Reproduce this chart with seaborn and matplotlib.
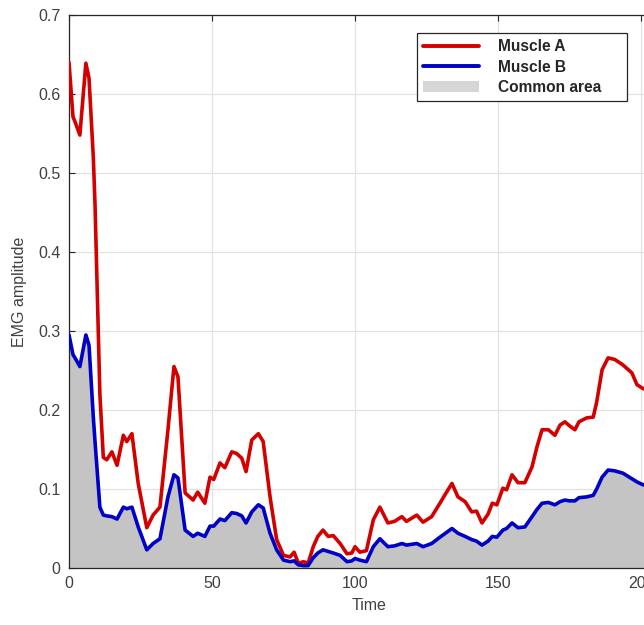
import numpy as np
import pandas as pd
import matplotlib
matplotlib.use("Agg")
import matplotlib.pyplot as plt
import seaborn as sns
from matplotlib.patches import Patch
from matplotlib.lines import Line2D

# time samples
time = [0, 1.4, 2.1, 3.8, 5.9, 7, 8.5, 9.1, 10.8, 12, 13.2, 15, 16.8, 19, 20.2, 22,
        24.2, 27.2, 29.4, 31.8, 34.6, 36.7, 38.1, 40.6, 43.4, 45, 47.5, 49.3, 50.6,
        52.8, 54.5, 56.9, 58.6, 60.4, 61.9, 63.9, 66.2, 67.9, 70.3, 72.6, 75, 77.3,
        78.7, 80.2, 82, 83.6, 85.4, 87, 88.8, 90.6, 92.4, 94.8, 97.2, 98.9, 100,
        101.7, 104, 106.4, 108.7, 111.5, 113.8, 116.4, 118, 121.6, 123.8, 126.8,
        129.7, 132, 133.9, 136, 138.5, 140.8, 142.5, 144.4, 146.5, 148, 149.6, 151.7,
        153, 154.9, 157, 159.4, 161.9, 163.6, 165.4, 167.6, 169.9, 171.7, 173.4, 175,
        176.9, 178.3, 181, 183.3, 184.5, 186.4, 188.5, 190.8, 193.7, 196.8, 198.6,
        200.3, 202]

muscle_a = [0.64, 0.571, 0.565, 0.548, 0.639, 0.62, 0.52, 0.46, 0.22, 0.14, 0.137,
            0.147, 0.13, 0.168, 0.16, 0.17, 0.107, 0.051, 0.067, 0.077, 0.175, 0.255,
            0.242, 0.095, 0.086, 0.096, 0.082, 0.115, 0.112, 0.133, 0.127, 0.147, 0.145,
            0.139, 0.122, 0.162, 0.17, 0.16, 0.09, 0.036, 0.016, 0.014, 0.02, 0.006,
            0.008, 0.006, 0.027, 0.04, 0.048, 0.04, 0.041, 0.031, 0.018, 0.019, 0.027,
            0.02, 0.022, 0.061, 0.077, 0.057, 0.059, 0.065, 0.059, 0.067, 0.058, 0.065,
            0.082, 0.096, 0.107, 0.09, 0.084, 0.071, 0.072, 0.057, 0.068, 0.082, 0.08,
            0.101, 0.099, 0.118, 0.108, 0.108, 0.128, 0.153, 0.175, 0.175, 0.168, 0.181,
            0.185, 0.18, 0.175, 0.185, 0.19, 0.191, 0.21, 0.251, 0.266, 0.264, 0.257,
            0.247, 0.232, 0.228, 0.225]

muscle_b = [0.295, 0.27, 0.266, 0.255, 0.295, 0.282, 0.191, 0.16, 0.077, 0.067, 0.066,
            0.065, 0.062, 0.077, 0.075, 0.077, 0.052, 0.023, 0.031, 0.037, 0.09, 0.118,
            0.114, 0.048, 0.04, 0.044, 0.04, 0.053, 0.053, 0.062, 0.06, 0.07, 0.069,
            0.066, 0.057, 0.071, 0.08, 0.076, 0.044, 0.023, 0.01, 0.008, 0.009, 0.004,
            0.003, 0.003, 0.013, 0.019, 0.023, 0.021, 0.019, 0.016, 0.008, 0.009, 0.012,
            0.01, 0.008, 0.027, 0.037, 0.027, 0.028, 0.031, 0.029, 0.031, 0.027, 0.031,
            0.039, 0.045, 0.05, 0.044, 0.04, 0.036, 0.034, 0.029, 0.034, 0.04, 0.039,
            0.048, 0.05, 0.057, 0.051, 0.052, 0.065, 0.074, 0.082, 0.083, 0.08, 0.084,
            0.086, 0.085, 0.085, 0.089, 0.09, 0.092, 0.1, 0.115, 0.124, 0.123, 0.12,
            0.113, 0.109, 0.106, 0.104]

yticks = [0, 0.1, 0.2, 0.3, 0.4, 0.5, 0.6, 0.7]
yticklabels = ['0', '0.1', '0.2', '0.3', '0.4', '0.5', '0.6', '0.7']
xticks = [0, 50, 100, 150, 200]

df = pd.DataFrame({'Time': time, 'Muscle A': muscle_a, 'Muscle B': muscle_b})
long_df = df.melt(id_vars='Time', var_name='muscle', value_name='EMG')

sns.set_theme(style='ticks')
plt.rcParams['font.family'] = ['Liberation Sans', 'DejaVu Sans']

red = '#d40000'
blue = '#0000c8'
fill_col = '#c4c4c4'

fig = plt.figure(figsize=(6.44, 6.25), dpi=100)
# axes runs past the right edge, like the cropped original
ax = fig.add_axes([69 / 644, 57 / 625, 600.6 / 644, 553 / 625])

common = np.minimum(df['Muscle A'], df['Muscle B'])
ax.fill_between(df['Time'], 0, common, color=fill_col, lw=0, zorder=1)
sns.lineplot(data=long_df, x='Time', y='EMG', hue='muscle',
             palette={'Muscle A': red, 'Muscle B': blue},
             linewidth=2.6, ax=ax, legend=False, zorder=3)

ax.set_xlim(0, 210)
ax.set_ylim(0, 0.7)
ax.set_xticks(xticks)
ax.set_yticks(yticks)
ax.set_yticklabels(yticklabels)
ax.grid(True, color='#e2e2e2', lw=0.9, zorder=0)
ax.set_axisbelow(True)
ax.tick_params(direction='in', top=True, right=True, length=4, width=0.8,
               color='#262626', labelsize=11.5, labelcolor='#404040', pad=6)
for s in ax.spines.values():
    s.set_color('#262626')
    s.set_linewidth(0.9)
ax.set_xlabel('Time', fontsize=11.5, color='#404040', labelpad=5)
ax.set_ylabel('EMG amplitude', fontsize=11.5, color='#404040', labelpad=8)

handles = [Line2D([], [], color=red, lw=2.8),
           Line2D([], [], color=blue, lw=2.8),
           Patch(facecolor='#d6d6d6', edgecolor='none')]
leg = ax.legend(handles, ['Muscle A', 'Muscle B', 'Common area'],
                loc='upper left', bbox_to_anchor=(0.579, 0.5, 0.35, 0.467),
                mode='expand', prop={'weight': 'bold', 'size': 11.2},
                frameon=True, fancybox=False, framealpha=1, edgecolor='#262626',
                handlelength=3.6, handletextpad=1.2, borderpad=0.4,
                labelspacing=0.33, borderaxespad=0)
leg.get_frame().set_linewidth(0.9)

fig.savefig('out.png', dpi=100)
